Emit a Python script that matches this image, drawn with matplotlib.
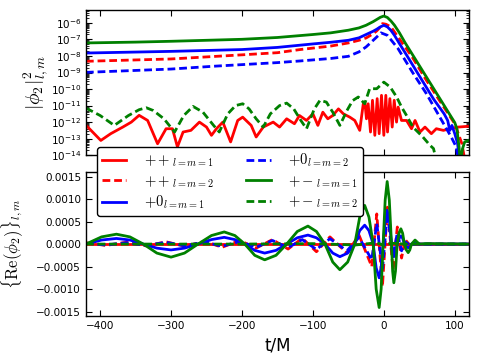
import numpy as np
import matplotlib
matplotlib.use("Agg")
import matplotlib.pyplot as plt
from matplotlib.ticker import FuncFormatter, LogLocator, MultipleLocator
from matplotlib.lines import Line2D

plt.rcParams['mathtext.fontset'] = 'cm'
plt.rcParams['font.family'] = ['DejaVu Sans']
plt.rcParams['lines.dashed_pattern'] = [2.8, 1.4]

# ---------------- top panel: log10 |phi2|^2 ----------------
rs_top_t = [-421, -399, -385, -368, -356, -345, -333, -319, -307, -298, -291, -283, -272, -260, -250, -243, -236,
            -227, -216, -206, -199, -187, -180, -170, -156, -147, -137, -126, -119, -109, -100, -93, -86, -79, -72,
            -64, -57, -48, -41, -34, -29, -26.8, -24.5, -22.1, -18.8, -16.0, -12.7, -9.4, -6.6, -3.3, 0, 2.8, 5.2,
            8.5, 11.8, 14.6, 17.9, 20.2, 24.9, 32, 39, 44, 51, 58, 67, 74, 84, 93, 105, 120]
rs_top_v = [-12.14, -13.11, -12.70, -12.30, -12.0, -11.59, -11.9, -13.31, -12.4, -12.4, -13.5, -12.6, -12.5, -12.0,
            -12.3, -12.8, -12.4, -12.0, -13.2, -11.9, -11.7, -12.2, -12.9, -12.3, -12.0, -12.3, -11.8, -12.1, -11.6,
            -11.9, -11.5, -12.2, -11.4, -11.8, -11.6, -11.2, -11.5, -11.7, -11.9, -12.5, -10.9, -10.79, -11.8,
            -10.89, -12.6, -10.68, -12.8, -10.58, -12.7, -10.38, -12.8, -10.38, -12.6, -10.58, -12.3, -10.68, -12.0,
            -11.09, -11.9, -11.9, -12.4, -11.9, -12.6, -12.3, -12.7, -12.4, -12.5, -12.4, -12.3, -12.25]

rd_top_t = [-420, -300, -200, -150, -118, -75, -50, -35, -25, -15, -10, -5, -2, 3, 10, 20, 40, 60, 80, 100, 110, 115, 120]
rd_top_v = [-8.32, -8.18, -7.93, -7.8, -7.61, -7.4, -7.21, -7.05, -6.91, -6.65, -6.48, -6.25, -6.04, -6.08, -6.24,
            -6.85, -8.06, -9.47, -10.79, -12.1, -13.3, -14.5, -15.0]

bs_top_t = [-420, -300, -200, -150, -100, -75, -50, -35, -25, -15, -10, -5, 0, 5, 10, 15, 22, 30, 50, 70, 85, 90,
            93, 96, 100, 104, 107, 120]
bs_top_v = [-7.82, -7.72, -7.61, -7.48, -7.27, -7.17, -7.05, -6.9, -6.70, -6.5, -6.38, -6.24, -6.14, -6.24, -6.45,
            -6.75, -7.25, -7.8, -9.2, -10.6, -11.5, -11.9, -12.5, -12.2, -12.7, -13.3, -14.5, -15.0]

bd_top_t = [-420, -300, -240, -150, -118, -75, -50, -35, -25, -15, -10, -4, 5, 20, 40, 60, 80, 95, 102, 106, 120]
bd_top_v = [-8.99, -8.79, -8.62, -8.4, -8.30, -8.15, -8.02, -7.75, -7.45, -7.05, -6.85, -6.6, -6.75, -7.55, -8.96,
            -10.28, -11.78, -12.9, -13.5, -14.5, -15.0]

gs_top_t = [-420, -350, -300, -250, -200, -150, -100, -75, -50, -35, -25, -15, -10, -5, 0, 5, 10, 15, 22, 30, 50,
            70, 90, 100, 103, 106, 108, 111, 114, 120]
gs_top_v = [-7.21, -7.16, -7.11, -7.05, -6.99, -6.88, -6.70, -6.6, -6.44, -6.3, -6.14, -5.92, -5.79, -5.66, -5.58,
            -5.67, -5.88, -6.14, -6.6, -7.2, -8.58, -9.96, -11.34, -12.03, -12.4, -13.5, -14.5, -13.6, -13.2, -13.1]

gd_top_t = [-420, -400, -380, -360, -345, -335, -325, -310, -295, -282, -269, -255, -240, -232, -220, -209, -199,
            -190, -180, -170, -160, -147, -137, -127, -117, -109, -98, -90, -81, -72, -62, -52, -44, -36, -27, -20,
            -10, 0, 9, 18, 25, 32, 41, 48, 55, 65, 70, 75, 120]
gd_top_v = [-11.15, -11.6, -12.2, -11.6, -11.25, -11.13, -11.3, -11.8, -12.6, -11.6, -11.05, -11.4, -12.2, -12.6,
            -11.5, -11.0, -10.89, -11.2, -11.8, -12.3, -11.5, -11.0, -10.85, -11.2, -11.9, -12.4, -11.2, -10.68,
            -10.79, -11.4, -12.2, -11.3, -10.7, -10.48, -10.89, -9.98, -9.98, -9.58, -9.88, -10.48, -11.09, -11.6,
            -12.3, -12.6, -12.9, -13.4, -13.6, -14.5, -15.0]

# ---------------- bottom panel: Re(phi2) ----------------
gs_b_t = [-420, -398, -377, -358, -339, -320, -300, -281, -262, -243, -225, -210, -196, -182, -168, -152, -137,
          -122, -107, -95, -83, -72, -62, -51, -41, -34, -27, -21, -15, -10.8, -6.6, -3.8, -1, 1.9, 4.7, 7.7, 10.8,
          12.4, 14.1, 16.4, 18.8, 21.4, 24, 26.5, 29, 31.7, 34.3, 36.6, 39, 44, 50, 60, 120]
gs_b_v = [0.0, 0.00016, 0.00022, 0.00016, 0.0, -0.0002, -0.00029, -0.0002, 0.0, 0.00019, 0.00027, 0.00019, 0.0,
          -0.00025, -0.00035, -0.00025, 0.0, 0.00028, 0.0004, 0.00028, 0.0, -0.0004, -0.00057, -0.0004, 0.0,
          0.0006, 0.00086, 0.0006, 0.0, -0.001, -0.00141, -0.001, 0.0, 0.00098, 0.00139, 0.00098, 0.0, -0.0006,
          -0.00086, -0.0006, 0.0, 0.00024, 0.00034, 0.00024, 0.0, -0.00013, -0.00019, -0.00013, 0.0, 0.00009,
          0.0, 0.00001, 0.0]

bs_b_t = gs_b_t
bs_b_v = [0.0, 0.00009, 0.000125, 0.00009, 0.0, -0.00009, -0.00013, -0.00009, 0.0, 0.0001, 0.00015, 0.0001, 0.0,
          -0.00014, -0.0002, -0.00014, 0.0, 0.00014, 0.0002, 0.00014, 0.0, -0.0002, -0.00028, -0.0002, 0.0,
          0.0003, 0.00042, 0.0003, 0.0, -0.00053, -0.00075, -0.00053, 0.0, 0.00053, 0.00075, 0.00053, 0.0,
          -0.0002, -0.00028, -0.0002, 0.0, 0.00013, 0.00018, 0.00013, 0.0, -0.00006, -0.00008, -0.00006, 0.0,
          0.00004, 0.0, 0.0, 0.0]

rd_b_t = [-420, -392, -363, -335, -307, -280, -253, -228, -203, -180, -157, -135, -115, -95, -76, -52, -35, -17,
          -10, -2, 5, 13, 19, 25, 30, 37, 45, 120]
rd_b_v = [0.00003, -0.00003, 0.00004, -0.00004, 0.00005, -0.00005, 0.00006, -0.00007, 0.00008, -0.00009, 0.0001,
          -0.00011, 0.00013, -0.00017, 0.00016, -0.0002, 0.0002, -0.0005, 0.00067, -0.00094, 0.00082, -0.00057,
          0.00038, -0.00031, 0.0001, -0.00003, 0.0, 0.0]

bd_b_t = rd_b_t
bd_b_v = [0.00002, -0.00002, 0.00003, -0.00003, 0.00004, -0.00004, 0.00005, -0.00005, 0.00006, -0.00007, 0.00008,
          -0.00008, 0.0001, -0.00012, 0.00012, -0.00015, 0.00015, -0.00035, 0.00046, -0.00057, 0.00071, -0.00028,
          0.00025, -0.00015, 0.00005, -0.00002, 0.0, 0.0]

gd_b_t = [-420, -300, -200, -100, -40, -10, 0, 10, 30, 120]
gd_b_v = [0.0, 0.0, 0.0, 0.00001, -0.00002, 0.00003, -0.00003, 0.00002, 0.0, 0.0]

rs_b_t = [-420, 120]
rs_b_v = [0.0, 0.0]

labels = [r'$++_{l=m=1}$', r'$++_{l=m=2}$', r'$+0_{l=m=1}$', r'$+0_{l=m=2}$', r'$+-_{l=m=1}$', r'$+-_{l=m=2}$']
colors = ['red', 'red', 'blue', 'blue', 'green', 'green']
styles = ['-', '--', '-', '--', '-', '--']

top_series = [(rs_top_t, rs_top_v), (rd_top_t, rd_top_v), (bs_top_t, bs_top_v),
              (bd_top_t, bd_top_v), (gs_top_t, gs_top_v), (gd_top_t, gd_top_v)]
bot_series = [(rs_b_t, rs_b_v), (rd_b_t, rd_b_v), (bs_b_t, bs_b_v),
              (bd_b_t, bd_b_v), (gs_b_t, gs_b_v), (gd_b_t, gd_b_v)]

fig = plt.figure(figsize=(4.8, 3.6), dpi=100)
ax1 = fig.add_axes([0.179, 0.569, 0.798, 0.403])
ax2 = fig.add_axes([0.179, 0.122, 0.798, 0.400])

lw = 2.0
for (t, v), c, s in zip(top_series, colors, styles):
    ax1.plot(t, 10 ** np.array(v), color=c, ls=s, lw=lw)
for (t, v), c, s in zip(bot_series, colors, styles):
    ax2.plot(t, v, color=c, ls=s, lw=lw)

ax1.set_yscale('log')
ax1.set_ylim(1e-14, 6e-6)
ax1.yaxis.set_major_locator(LogLocator(base=10, numticks=20))
ax1.yaxis.set_minor_locator(LogLocator(base=10, subs=np.arange(2, 10), numticks=20))
ax1.yaxis.set_minor_formatter(plt.NullFormatter())
for ax in (ax1, ax2):
    ax.set_xlim(-420, 120)
    ax.xaxis.set_major_locator(MultipleLocator(100))
    ax.tick_params(direction='in', top=True, right=True, labelsize=7.5, length=4, width=0.8)
    ax.tick_params(which='minor', direction='in', top=True, right=True, length=2, width=0.6)
    for sp in ax.spines.values():
        sp.set_linewidth(1.0)
ax1.set_xticklabels([])
ax2.set_ylim(-0.0016, 0.0016)
ax2.yaxis.set_major_locator(MultipleLocator(0.0005))
ax2.yaxis.set_major_formatter(FuncFormatter(
    lambda x, p: ('%.4f' % abs(x)) if abs(x) < 1e-9 else ('%.4f' % x).replace('-', '\u2212')))

ax1.set_ylabel(r'$|\phi_2|^2_{l,m}$', fontsize=14)
ax2.set_ylabel(r'$\{\mathrm{Re}(\phi_2)\}_{l,m}$', fontsize=12)
ax2.set_xlabel('t/M', fontsize=12)
ax1.yaxis.set_label_coords(-0.094, 0.5)
ax2.yaxis.set_label_coords(-0.158, 0.5)

handles = [Line2D([], [], color=c, ls=s, lw=lw) for c, s in zip(colors, styles)]
leg = fig.legend(handles, labels, ncol=2, loc='upper left', bbox_to_anchor=(97 / 480, 1 - 147 / 360),
                 fontsize=10.5, handlelength=1.7, handletextpad=1.2, fancybox=True, framealpha=1,
                 edgecolor='black', borderaxespad=0, labelspacing=0.28, columnspacing=2.2, borderpad=0.32)
leg.get_frame().set_linewidth(1.0)

fig.savefig('out.png', dpi=100)
